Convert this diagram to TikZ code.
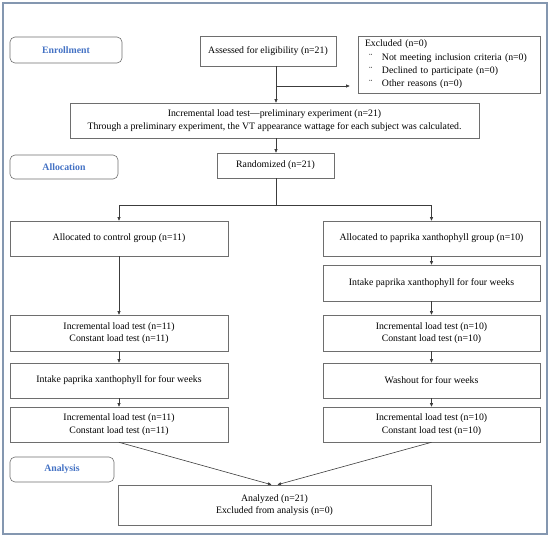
\documentclass[tikz,border=0pt]{standalone}
\usepackage{fontspec}
\setmainfont{Liberation Serif}
\usetikzlibrary{arrows.meta,calc}
\definecolor{framec}{RGB}{132,151,176}
\definecolor{boxc}{RGB}{110,110,110}
\definecolor{linec}{RGB}{60,60,60}
\definecolor{phasec}{RGB}{68,114,196}
\newcommand\fs{\fontsize{9.8}{12.5}\selectfont}
\tikzset{
  box/.style={draw=boxc, line width=0.6pt, inner sep=0pt, align=center, font=\fs},
  phase/.style={draw=boxc, line width=0.6pt, rounded corners=5pt, inner sep=0pt, font=\fs\bfseries, text=phasec},
  conn/.style={draw=linec, line width=0.6pt},
  arr/.style={conn, -{Triangle[length=3.5pt,width=3pt]}}
}
\begin{document}
\begin{tikzpicture}[x=1pt,y=-1pt]
\useasboundingbox (0,0) rectangle (550,538);
\draw[framec, line width=1.5pt] (3,3) rectangle (547,534);
% phases
\node[phase, minimum width=112pt, minimum height=26pt] (enr) at (66,50) {Enrollment};
\node[phase, minimum width=108pt, minimum height=24pt] (alc) at (64,167) {Allocation};
\node[phase, minimum width=104pt, minimum height=25pt] (ana) at (62,469.5) {Analysis};
% boxes
\node[box, minimum width=136pt, minimum height=30pt] (ass) at (268,51) {Assessed for eligibility (n=21)};
\node[box, minimum width=182pt, minimum height=57pt, text width=168pt, align=left, inner xsep=7pt, font=\fontsize{9.8}{13.3}\selectfont] (exc) at (449,64.5)
  {Excluded (n=0)\\
   \makebox[17pt][l]{\hspace{4pt}¨}Not meeting inclusion criteria (n=0)\\
   \makebox[17pt][l]{\hspace{4pt}¨}Declined to participate (n=0)\\
   \makebox[17pt][l]{\hspace{4pt}¨}Other reasons (n=0)};
\node[box, minimum width=409pt, minimum height=35pt] (pre) at (274.5,120.5)
  {Incremental load test---preliminary experiment (n=21)\\
   Through a preliminary experiment, the VT appearance wattage for each subject was calculated.};
\node[box, minimum width=117pt, minimum height=25pt] (rnd) at (275.5,165.5) {Randomized (n=21)};
\node[box, minimum width=218pt, minimum height=35pt] (ctl) at (119,238.5) {Allocated to control group (n=11)};
\node[box, minimum width=217pt, minimum height=35pt] (pap) at (431.5,238.5) {Allocated to paprika xanthophyll group (n=10)};
\node[box, minimum width=217pt, minimum height=36pt] (intR) at (431.5,283) {Intake paprika xanthophyll for four weeks};
\node[box, minimum width=218pt, minimum height=36pt] (incL1) at (119,333) {Incremental load test (n=11)\\Constant load test (n=11)};
\node[box, minimum width=217pt, minimum height=36pt] (incR1) at (431.5,333) {Incremental load test (n=10)\\Constant load test (n=10)};
\node[box, minimum width=218pt, minimum height=35pt] (intL) at (119,380.5) {Intake paprika xanthophyll for four weeks};
\node[box, minimum width=217pt, minimum height=35pt] (wsh) at (431.5,380.5) {Washout for four weeks};
\node[box, minimum width=218pt, minimum height=35pt] (incL2) at (119,424.5) {Incremental load test (n=11)\\Constant load test (n=11)};
\node[box, minimum width=217pt, minimum height=35pt] (incR2) at (431.5,424.5) {Incremental load test (n=10)\\Constant load test (n=10)};
\node[box, minimum width=313pt, minimum height=40pt] (anz) at (274.5,505) {Analyzed (n=21)\\Excluded from analysis (n=0)};
% connectors
\coordinate (axis) at (276,0);
\coordinate (br) at (276,86);
\coordinate (split) at (276,205);
\draw[arr] (ass.south -| axis) -- (pre.north -| axis);
\draw[arr, shorten >=8pt] (br) -- (br -| exc.west);
\draw[arr] (pre.south -| axis) -- (rnd.north -| axis);
\draw[conn] (rnd.south -| axis) -- (split);
\draw[arr] (split) -| (ctl.north);
\draw[arr] (split) -| (pap.north);
\draw[arr] (ctl) -- (incL1);
\draw[arr] (incL1) -- (intL);
\draw[arr] (intL) -- (incL2);
\draw[arr] (pap) -- (intR);
\draw[arr] (intR) -- (incR1);
\draw[arr] (incR1) -- (wsh);
\draw[arr] (wsh) -- (incR2);
\draw[arr] (incL2.south) -- ([xshift=-3pt]anz.north);
\draw[arr] (incR2.south) -- ([xshift=3pt]anz.north);
\end{tikzpicture}
\end{document}
